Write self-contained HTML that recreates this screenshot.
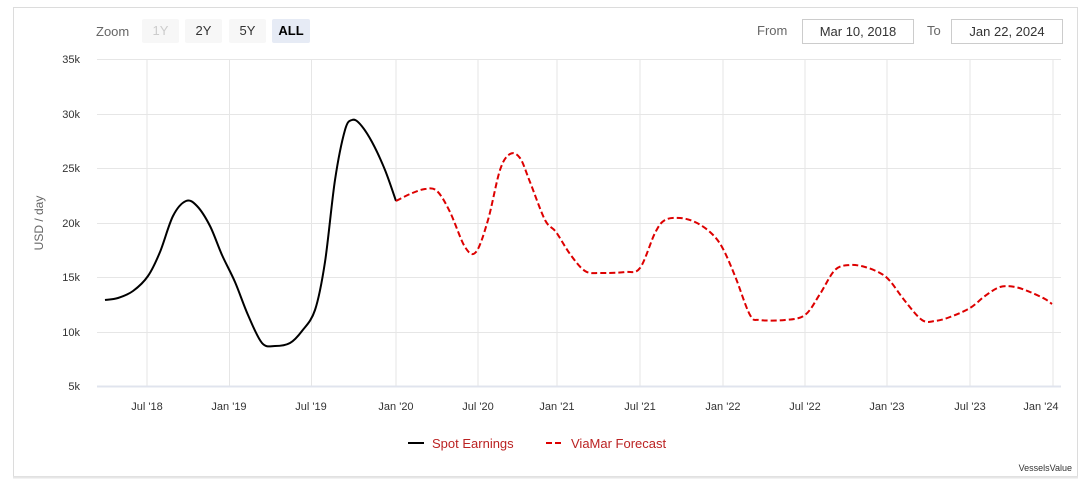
<!DOCTYPE html>
<html><head><meta charset="utf-8"><style>
body{margin:0;background:#fff;width:1087px;height:493px;overflow:hidden;font-family:"Liberation Sans",sans-serif}
svg text{font-family:"Liberation Sans",sans-serif}
</style></head><body>
<svg width="1087" height="493" xmlns="http://www.w3.org/2000/svg">
<rect x="13.5" y="7.5" width="1064" height="469" fill="#fff" stroke="#dcdcdc"/>
<line x1="13" y1="477.5" x2="1078" y2="477.5" stroke="#e6e6e6" stroke-width="2"/>
<!-- zoom -->
<text x="96" y="36" font-size="13" fill="#666">Zoom</text>
<rect x="142" y="19" width="37" height="24" rx="2" fill="#f7f7f7"/><text x="160.5" y="35" font-size="13" fill="#ccc" text-anchor="middle">1Y</text>
<rect x="185" y="19" width="37" height="24" rx="2" fill="#f7f7f7"/><text x="203.5" y="35" font-size="13" fill="#333" text-anchor="middle">2Y</text>
<rect x="229" y="19" width="37" height="24" rx="2" fill="#f7f7f7"/><text x="247.5" y="35" font-size="13" fill="#333" text-anchor="middle">5Y</text>
<rect x="272" y="19" width="38" height="24" rx="2" fill="#e6ebf5"/><text x="291" y="35" font-size="13" fill="#000" font-weight="bold" text-anchor="middle">ALL</text>
<text x="757" y="35" font-size="13" fill="#666">From</text>
<rect x="802.5" y="19.5" width="111" height="24" fill="#fff" stroke="#ccc"/><text x="858" y="36" font-size="13" fill="#333" text-anchor="middle">Mar 10, 2018</text>
<text x="927" y="35" font-size="13" fill="#666">To</text>
<rect x="951.5" y="19.5" width="111" height="24" fill="#fff" stroke="#ccc"/><text x="1007" y="36" font-size="13" fill="#333" text-anchor="middle">Jan 22, 2024</text>
<g stroke="#e6e6e6" stroke-width="1">
<line x1="97" x2="1061" y1="59.5" y2="59.5"/><line x1="97" x2="1061" y1="114.5" y2="114.5"/><line x1="97" x2="1061" y1="168.5" y2="168.5"/><line x1="97" x2="1061" y1="223.5" y2="223.5"/><line x1="97" x2="1061" y1="277.5" y2="277.5"/><line x1="97" x2="1061" y1="332.5" y2="332.5"/>
<line x1="147" x2="147" y1="59" y2="386"/><line x1="229.5" x2="229.5" y1="59" y2="386"/><line x1="311.5" x2="311.5" y1="59" y2="386"/><line x1="396" x2="396" y1="59" y2="386"/><line x1="478" x2="478" y1="59" y2="386"/><line x1="557" x2="557" y1="59" y2="386"/><line x1="640" x2="640" y1="59" y2="386"/><line x1="723" x2="723" y1="59" y2="386"/><line x1="805" x2="805" y1="59" y2="386"/><line x1="887" x2="887" y1="59" y2="386"/><line x1="970" x2="970" y1="59" y2="386"/><line x1="1053" x2="1053" y1="59" y2="386"/>
</g>
<line x1="97" x2="1061" y1="386.5" y2="386.5" stroke="#e0e4ee" stroke-width="2"/>
<g font-size="11" fill="#333" text-anchor="end">
<text x="80" y="63">35k</text><text x="80" y="118">30k</text><text x="80" y="172">25k</text><text x="80" y="227">20k</text><text x="80" y="281">15k</text><text x="80" y="336">10k</text><text x="80" y="390">5k</text>
</g>
<text transform="translate(43,223) rotate(-90)" font-size="12" fill="#666" text-anchor="middle">USD / day</text>
<g font-size="11" fill="#333" text-anchor="middle">
<text x="147" y="410">Jul '18</text><text x="229" y="410">Jan '19</text><text x="311" y="410">Jul '19</text><text x="396" y="410">Jan '20</text><text x="478" y="410">Jul '20</text><text x="557" y="410">Jan '21</text><text x="640" y="410">Jul '21</text><text x="723" y="410">Jan '22</text><text x="805" y="410">Jul '22</text><text x="887" y="410">Jan '23</text><text x="970" y="410">Jul '23</text><text x="1041" y="410">Jan '24</text>
</g>
<path id="blk" fill="none" stroke="#000" stroke-width="2"/>
<path id="red" fill="none" stroke="#d00" stroke-width="2" stroke-dasharray="6,3"/>
<line x1="408" x2="424" y1="443" y2="443" stroke="#000" stroke-width="2"/>
<text x="432" y="448" font-size="13" fill="#b22">Spot Earnings</text>
<line x1="546" x2="562" y1="443" y2="443" stroke="#d00" stroke-width="2" stroke-dasharray="6,3"/>
<text x="571" y="448" font-size="13" fill="#b22">ViaMar Forecast</text>
<text x="1072" y="471" font-size="9" fill="#333" text-anchor="end">VesselsValue</text>
</svg>
<script>
function sm(p){let d="M"+p[0][0]+","+p[0][1];for(let i=0;i<p.length-1;i++){const a=p[i-1]||p[i],b=p[i],c=p[i+1],e=p[i+2]||c;d+=" C"+(b[0]+(c[0]-a[0])/6)+","+(b[1]+(c[1]-a[1])/6)+" "+(c[0]-(e[0]-b[0])/6)+","+(c[1]-(e[1]-b[1])/6)+" "+c[0]+","+c[1];}return d;}
const B=[[105,300],[118,298],[133,291],[148,276],[160,252],[173,216],[186,201],[197,206],[210,226],[222,255],[235,282],[248,315],[262,343],[275,346],[290,343],[302,331],[315,310],[325,262],[335,180],[345,130],[352,120],[360,124],[372,142],[385,170],[396,201]];
const R=[[396,201],[410,194],[425,189],[437,191],[450,212],[465,247],[476,252],[488,220],[500,170],[510,154],[520,158],[530,182],[545,220],[556,232],[570,254],[585,271],[600,273],[625,272],[640,268],[655,233],[665,220],[680,218],[695,222],[710,232],[722,247],[735,276],[750,315],[760,320],[785,320],[805,315],[820,294],[835,270],[850,265],[865,267],[880,273],[890,281],[905,301],[922,320],[935,321],[950,317],[970,308],[985,296],[1000,287],[1015,287],[1030,292],[1045,299],[1052,304]];
document.getElementById("blk").setAttribute("d",sm(B));
document.getElementById("red").setAttribute("d",sm(R));
</script>
</body></html>
